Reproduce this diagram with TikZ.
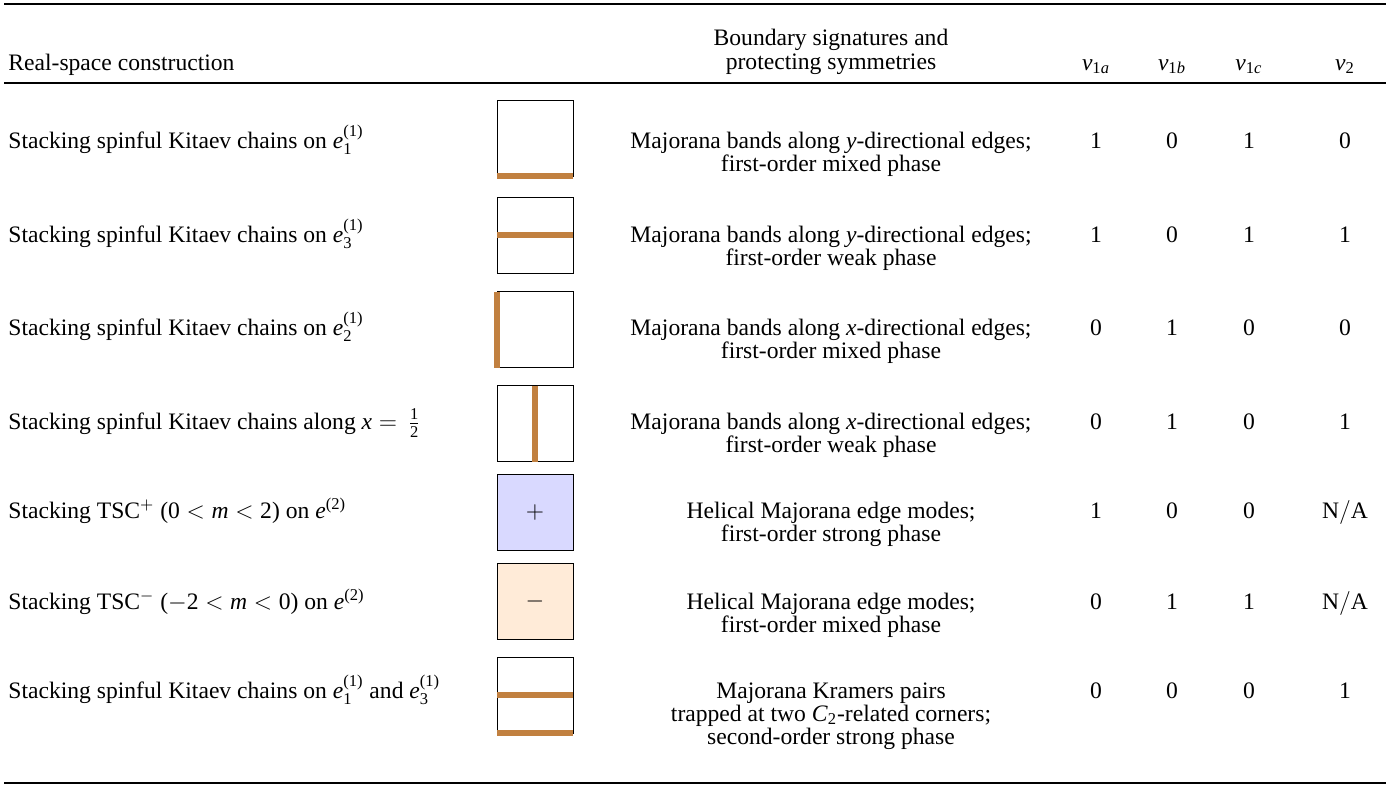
\documentclass[tikz,border=0pt]{standalone}
\usepackage{amsmath}
\usepackage{fontspec}
\setmainfont{Liberation Serif}
\definecolor{chainbrown}{RGB}{193,128,64}
\definecolor{tscplus}{RGB}{217,217,255}
\definecolor{tscminus}{RGB}{255,235,216}
\newcommand{\eone}[1]{\textit{e}$^{\text{(1)}}_{\text{#1}}$}
\newcommand{\etwo}{\textit{e}$^{\text{(2)}}$}
\newcommand{\inv}[1]{\textit{ν}$_{\text{#1}}$}
\newcommand{\notap}{N$/$A}
\newcommand{\twolines}[1]{\begin{tabular}[t]{@{}c@{}}#1\end{tabular}}
\begin{document}
\begin{tikzpicture}[x=0.5pt, y=-0.5pt,
  every node/.style={font=\fontsize{11.8}{11.25}\selectfont, inner sep=0pt},
  lbl/.style={anchor=base west},
  sig/.style={anchor=base},
  val/.style={anchor=base},
  cell/.style={draw, line width=0.5pt, minimum size=38pt, outer sep=0pt},
  chain/.style={chainbrown, line width=3pt},
  rule/.style={line width=0.8pt}]
\useasboundingbox (0,0) rectangle (1390,787);
% rules
\draw[rule] (4,4) -- (1386,4);
\draw[rule] (4,83) -- (1386,83);
\draw[rule] (4,783) -- (1386,783);
% header
\node[lbl] (h-1) at (8,70) {Real-space construction};
\node[sig] (h-2) at (831,45) {\twolines{Boundary signatures and\\[1.25pt] protecting symmetries}};
\node[val] (h-3) at (1096,70) {\inv{1\textit{a}}};
\node[val] (h-4) at (1172,70) {\inv{1\textit{b}}};
\node[val] (h-5) at (1249,70) {\inv{1\textit{c}}};
\node[val] (h-6) at (1345,70) {\inv{2}};
% constructions
\node[lbl] (c-1) at (8,148) {Stacking spinful Kitaev chains on \eone{1}};
\node[lbl] (c-2) at (8,242) {Stacking spinful Kitaev chains on \eone{3}};
\node[lbl] (c-3) at (8,335) {Stacking spinful Kitaev chains on \eone{2}};
\node[lbl] (c-4) at (8,429) {Stacking spinful Kitaev chains along \textit{x}$\;=\mkern3mu\tfrac{\text{1}}{\text{2}}$};
\node[lbl] (c-5) at (8,518) {Stacking TSC$^{+}$ (0$\;<\;$\textit{m}$\;<\;$2) on \etwo};
\node[lbl] (c-6) at (8,609) {Stacking TSC$^{-}$ ($-$2$\;<\;$\textit{m}$\;<\;$0) on \etwo};
\node[lbl] (c-7) at (8,698) {Stacking spinful Kitaev chains on \eone{1} and \eone{3}};
% unit cells
\node[cell] (b-1) at (535,138) {};
\node[cell] (b-2) at (535,235) {};
\node[cell] (b-3) at (535,329.5) {};
\node[cell] (b-4) at (535,423.5) {};
\node[cell, fill=tscplus] (b-5) at (535,512) {$+$};
\node[cell, fill=tscminus] (b-6) at (535,601) {$-$};
\node[cell] (b-7) at (535,695) {};
\draw[chain] (b-1.south west) -- (b-1.south east);
\draw[chain] (b-2.west) -- (b-2.east);
\draw[chain] (b-3.north west) -- (b-3.south west);
\draw[chain] (b-4.north) -- (b-4.south);
\draw[chain] (b-7.west) -- (b-7.east);
\draw[chain] (b-7.south west) -- (b-7.south east);
% boundary signatures
\node[sig] (s-1) at (831,148) {\twolines{Majorana bands along \textit{y}-directional edges;\\ first-order mixed phase}};
\node[sig] (s-2) at (831,242) {\twolines{Majorana bands along \textit{y}-directional edges;\\ first-order weak phase}};
\node[sig] (s-3) at (831,335) {\twolines{Majorana bands along \textit{x}-directional edges;\\ first-order mixed phase}};
\node[sig] (s-4) at (831,429) {\twolines{Majorana bands along \textit{x}-directional edges;\\ first-order weak phase}};
\node[sig] (s-5) at (831,518) {\twolines{Helical Majorana edge modes;\\ first-order strong phase}};
\node[sig] (s-6) at (831,609) {\twolines{Helical Majorana edge modes;\\ first-order mixed phase}};
\node[sig] (s-7) at (831,698) {\twolines{Majorana Kramers pairs\\ trapped at two \textit{C}$_{\text{2}}$-related corners;\\ second-order strong phase}};
% invariants
\foreach \r/\y/\a/\b/\c/\d in {1/148/1/0/1/0, 2/242/1/0/1/1, 3/335/0/1/0/0, 4/429/0/1/0/1,
    5/518/1/0/0/\notap, 6/609/0/1/1/\notap, 7/698/0/0/0/1} {
  \node[val] (v-\r-1) at (1096,\y) {\a};
  \node[val] (v-\r-2) at (1172,\y) {\b};
  \node[val] (v-\r-3) at (1249,\y) {\c};
  \node[val] (v-\r-4) at (1345,\y) {\d};
}
\end{tikzpicture}
\end{document}
